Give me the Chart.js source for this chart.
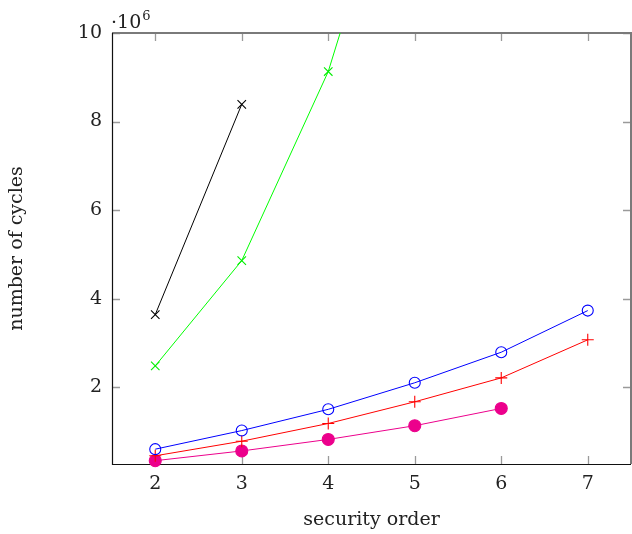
<!DOCTYPE html>
<html>
<head>
<meta charset="utf-8">
<script src="https://cdn.jsdelivr.net/npm/chart.js@4.4.0/dist/chart.umd.min.js"></script>
<style>
  html, body { margin: 0; padding: 0; background: #fff; }
  #wrap { width: 632px; height: 534px; }
</style>
</head>
<body>
<div id="wrap"><canvas id="c" width="632" height="534"></canvas></div>
<script>
// ---- data (values in cycles) ----
const xTicks = [2, 3, 4, 5, 6, 7];
const yTicks = [2000000, 4000000, 6000000, 8000000, 10000000];
const yTickLabels = ['2', '4', '6', '8', '10'];

const blackX = [2, 3];
const blackY = [3640000, 8390000];

const greenX = [2, 3, 4, 5];
const greenY = [2480000, 4860000, 9130000, 15450000];

const blueX = [2, 3, 4, 5, 6, 7];
const blueY = [600000, 1020000, 1500000, 2100000, 2790000, 3730000];

const redX = [2, 3, 4, 5, 6, 7];
const redY = [450000, 780000, 1180000, 1670000, 2210000, 3070000];

const pinkX = [2, 3, 4, 5, 6];
const pinkY = [340000, 560000, 820000, 1130000, 1520000];

const xTitle = 'security order';
const yTitle = 'number of cycles';
const yExpBase = '·10';
const yExpPow = '6';

function pts(xs, ys) { return xs.map((x, i) => ({ x: x, y: ys[i] })); }

const FONT = '"DejaVu Serif", serif';

const framePlugin = {
  id: 'frame',
  beforeDatasetsDraw(chart) {
    const { ctx, chartArea: a, scales } = chart;
    ctx.save();
    ctx.strokeStyle = '#9a9a9a';
    ctx.lineWidth = 1.3;
    const tl = 8;
    xTicks.forEach(v => {
      const px = Math.round(scales.x.getPixelForValue(v)) + 0.5;
      ctx.beginPath();
      ctx.moveTo(px, a.bottom); ctx.lineTo(px, a.bottom - tl);
      ctx.moveTo(px, a.top); ctx.lineTo(px, a.top + tl);
      ctx.stroke();
    });
    yTicks.forEach(v => {
      const py = Math.round(scales.y.getPixelForValue(v)) + 0.5;
      ctx.beginPath();
      ctx.moveTo(a.left, py); ctx.lineTo(a.left + tl, py);
      ctx.moveTo(a.right, py); ctx.lineTo(a.right - tl, py);
      ctx.stroke();
    });
    ctx.strokeStyle = '#7a7a7a';
    ctx.lineWidth = 2;
    ctx.beginPath();
    ctx.moveTo(a.left, a.top); ctx.lineTo(a.right, a.top); ctx.lineTo(a.right, a.bottom);
    ctx.stroke();
    ctx.strokeStyle = '#111';
    ctx.lineWidth = 1.2;
    ctx.beginPath();
    ctx.moveTo(a.left + 0.5, a.top); ctx.lineTo(a.left + 0.5, a.bottom + 0.5); ctx.lineTo(a.right, a.bottom + 0.5);
    ctx.stroke();
    ctx.restore();
  },
  afterDraw(chart) {
    const { ctx, chartArea: a } = chart;
    ctx.save();
    ctx.fillStyle = '#222';
    ctx.textBaseline = 'alphabetic';
    ctx.textAlign = 'left';
    ctx.font = '19px ' + FONT;
    const x0 = a.left - 1;
    ctx.fillText(yExpBase, x0, a.top - 5);
    const w = ctx.measureText(yExpBase).width;
    ctx.font = '13px ' + FONT;
    ctx.fillText(yExpPow, x0 + w + 1, a.top - 13);
    ctx.restore();
  }
};

const common = { borderWidth: 1, pointBorderWidth: 1.1, tension: 0, clip: { top: 0, left: false, right: false, bottom: false } };

new Chart(document.getElementById('c'), {
  type: 'line',
  data: {
    datasets: [
      Object.assign({ data: pts(blackX, blackY), borderColor: '#000', pointStyle: 'crossRot', pointRadius: 6, pointBorderColor: '#000' }, common),
      Object.assign({ data: pts(greenX, greenY), borderColor: '#00ff00', pointStyle: 'crossRot', pointRadius: 6, pointBorderColor: '#00ee00' }, common),
      Object.assign({ data: pts(blueX, blueY), borderColor: '#0000ff', pointStyle: 'circle', pointRadius: 5.5, pointBorderColor: '#0000ff', pointBackgroundColor: 'rgba(0,0,0,0)' }, common),
      Object.assign({ data: pts(redX, redY), borderColor: '#ff0000', pointStyle: 'cross', pointRadius: 6, pointBorderColor: '#ff0000' }, common),
      Object.assign({ data: pts(pinkX, pinkY), borderColor: '#ec008c', pointStyle: 'circle', pointRadius: 6, pointBorderColor: '#ec008c', pointBackgroundColor: '#ec008c' }, common)
    ]
  },
  options: {
    responsive: false,
    animation: false,
    devicePixelRatio: 1,
    layout: { autoPadding: false, padding: { top: 33, right: 1, left: 0, bottom: 0 } },
    plugins: { legend: { display: false }, tooltip: { enabled: false } },
    elements: { point: { hoverRadius: 6 } },
    scales: {
      x: {
        type: 'linear',
        min: 1.5, max: 7.5,
        afterBuildTicks: s => { s.ticks = xTicks.map(v => ({ value: v })); },
        afterFit: s => { s.height = 70; s.paddingLeft = 0; s.paddingRight = 0; },
        grid: { display: false, drawTicks: false },
        border: { display: false },
        ticks: { padding: 9, color: '#222', font: { family: FONT, size: 19 }, callback: v => String(v), maxRotation: 0, autoSkip: false },
        title: { display: true, text: xTitle, color: '#222', font: { family: FONT, size: 19 }, padding: { top: 0, bottom: 3 } }
      },
      y: {
        type: 'linear',
        min: 265000, max: 10000000,
        afterBuildTicks: s => { s.ticks = yTicks.map(v => ({ value: v })); },
        afterFit: s => { s.width = 112; s.paddingTop = 0; s.paddingBottom = 0; },
        grid: { display: false, drawTicks: false },
        border: { display: false },
        ticks: { padding: 10, color: '#222', font: { family: FONT, size: 19 }, callback: v => yTickLabels[yTicks.indexOf(v)], autoSkip: false },
        title: { display: true, text: yTitle, color: '#222', font: { family: FONT, size: 19 }, padding: { top: 6, bottom: 0 } }
      }
    }
  },
  plugins: [framePlugin]
});
</script>
</body>
</html>
